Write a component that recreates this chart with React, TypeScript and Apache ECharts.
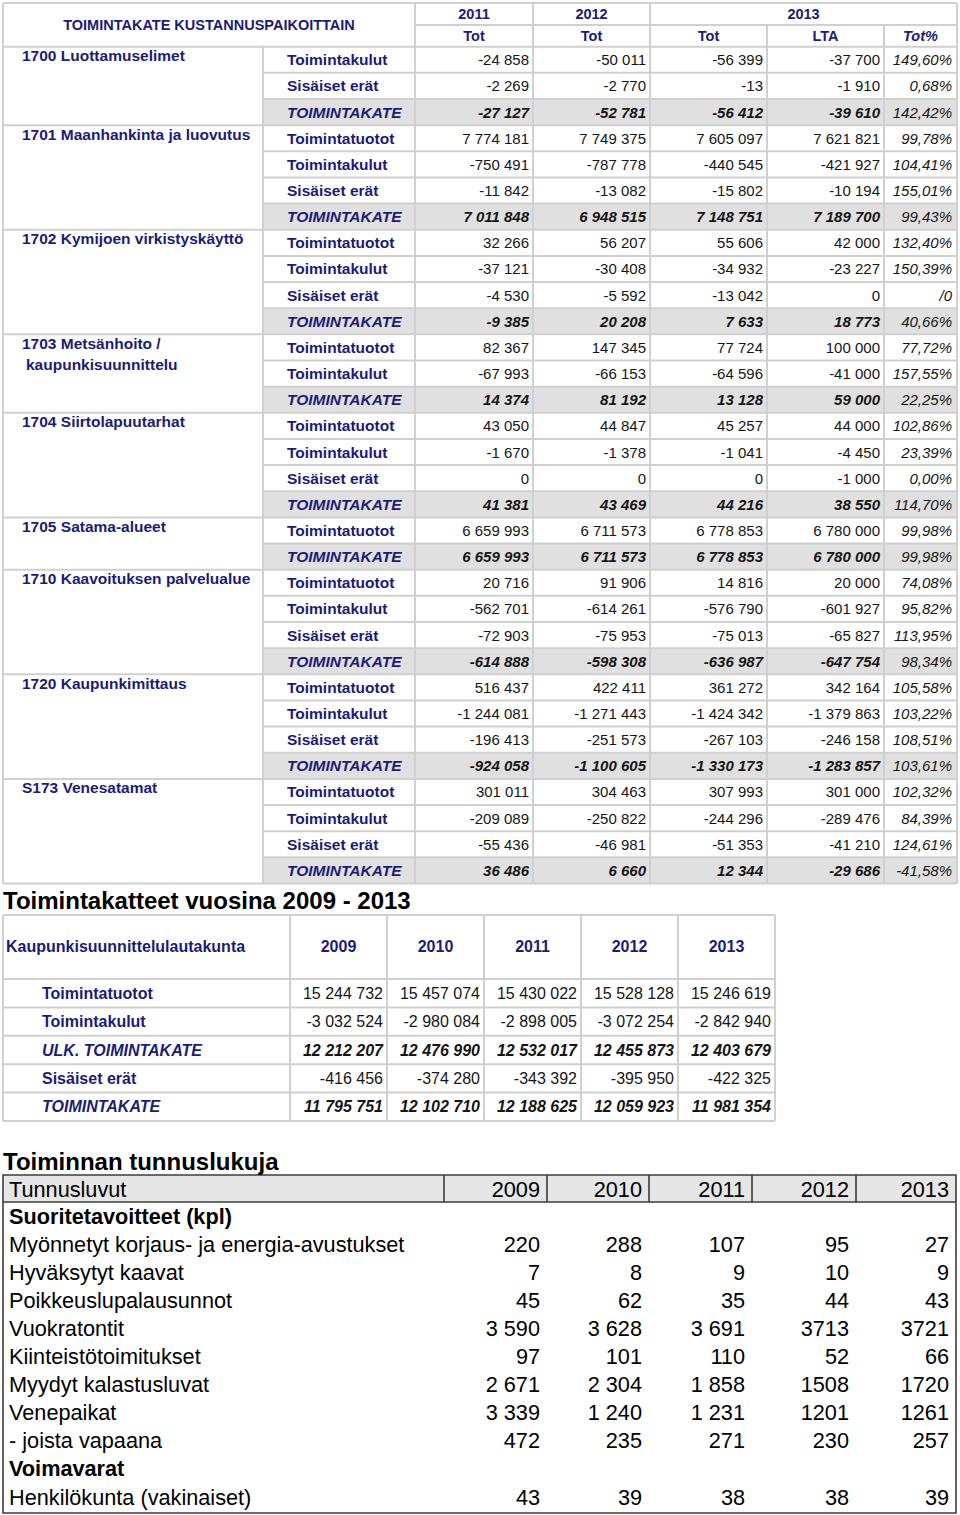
import React, { useEffect, useRef } from "react";
import * as echarts from "echarts";

const FONT = "'Liberation Sans', Arial, Helvetica, sans-serif";
const NAVY = "#1b1b78";
const INK = "#151515";
const GRID = "#d0d0d0";
const SHADE = "#e0e0e0";

// ---------- Table 1: Toimintakate kustannuspaikoittain ----------
const costCenters = [
  ["1700 Luottamuselimet"],
  ["1701 Maanhankinta ja luovutus"],
  ["1702 Kymijoen virkistyskäyttö"],
  ["1703 Metsänhoito /", "kaupunkisuunnittelu"],
  ["1704 Siirtolapuutarhat"],
  ["1705 Satama-alueet"],
  ["1710 Kaavoituksen palvelualue"],
  ["1720 Kaupunkimittaus"],
  ["S173 Venesatamat"],
];
const groupSizes = [3, 4, 4, 3, 4, 2, 4, 4, 4];
const rowLabels = [
  "Toimintakulut", "Sisäiset erät", "TOIMINTAKATE",
  "Toimintatuotot", "Toimintakulut", "Sisäiset erät", "TOIMINTAKATE",
  "Toimintatuotot", "Toimintakulut", "Sisäiset erät", "TOIMINTAKATE",
  "Toimintatuotot", "Toimintakulut", "TOIMINTAKATE",
  "Toimintatuotot", "Toimintakulut", "Sisäiset erät", "TOIMINTAKATE",
  "Toimintatuotot", "TOIMINTAKATE",
  "Toimintatuotot", "Toimintakulut", "Sisäiset erät", "TOIMINTAKATE",
  "Toimintatuotot", "Toimintakulut", "Sisäiset erät", "TOIMINTAKATE",
  "Toimintatuotot", "Toimintakulut", "Sisäiset erät", "TOIMINTAKATE",
];
const tot2011 = [-24858, -2269, -27127, 7774181, -750491, -11842, 7011848, 32266, -37121, -4530, -9385, 82367, -67993, 14374, 43050, -1670, 0, 41381, 6659993, 6659993, 20716, -562701, -72903, -614888, 516437, -1244081, -196413, -924058, 301011, -209089, -55436, 36486];
const tot2012 = [-50011, -2770, -52781, 7749375, -787778, -13082, 6948515, 56207, -30408, -5592, 20208, 147345, -66153, 81192, 44847, -1378, 0, 43469, 6711573, 6711573, 91906, -614261, -75953, -598308, 422411, -1271443, -251573, -1100605, 304463, -250822, -46981, 6660];
const tot2013 = [-56399, -13, -56412, 7605097, -440545, -15802, 7148751, 55606, -34932, -13042, 7633, 77724, -64596, 13128, 45257, -1041, 0, 44216, 6778853, 6778853, 14816, -576790, -75013, -636987, 361272, -1424342, -267103, -1330173, 307993, -244296, -51353, 12344];
const lta2013 = [-37700, -1910, -39610, 7621821, -421927, -10194, 7189700, 42000, -23227, 0, 18773, 100000, -41000, 59000, 44000, -4450, -1000, 38550, 6780000, 6780000, 20000, -601927, -65827, -647754, 342164, -1379863, -246158, -1283857, 301000, -289476, -41210, -29686];
const totPct2013: (number | null)[] = [149.6, 0.68, 142.42, 99.78, 104.41, 155.01, 99.43, 132.4, 150.39, null, 40.66, 77.72, 157.55, 22.25, 102.86, 23.39, 0.0, 114.7, 99.98, 99.98, 74.08, 95.82, 113.95, 98.34, 105.58, 103.22, 108.51, 103.61, 102.32, 84.39, 124.61, -41.58];
const t1Title = "TOIMINTAKATE KUSTANNUSPAIKOITTAIN";
const t1Years = ["2011", "2012", "2013"];
const t1SubHeads = ["Tot", "Tot", "Tot", "LTA", "Tot%"];

// ---------- Table 2: Toimintakatteet vuosina 2009 - 2013 ----------
const t2Heading = "Toimintakatteet vuosina 2009 - 2013";
const t2Corner = "Kaupunkisuunnittelulautakunta";
const t2Years = ["2009", "2010", "2011", "2012", "2013"];
const t2Labels = ["Toimintatuotot", "Toimintakulut", "ULK. TOIMINTAKATE", "Sisäiset erät", "TOIMINTAKATE"];
const t2Tuotot = [15244732, 15457074, 15430022, 15528128, 15246619];
const t2Kulut = [-3032524, -2980084, -2898005, -3072254, -2842940];
const t2UlkKate = [12212207, 12476990, 12532017, 12455873, 12403679];
const t2Sisaiset = [-416456, -374280, -343392, -395950, -422325];
const t2Kate = [11795751, 12102710, 12188625, 12059923, 11981354];

// ---------- Table 3: Toiminnan tunnuslukuja ----------
const t3Heading = "Toiminnan tunnuslukuja";
const t3Corner = "Tunnusluvut";
const t3Years = ["2009", "2010", "2011", "2012", "2013"];
const t3Grouped = [true, true, true, false, false];
const t3Labels = [
  "Suoritetavoitteet (kpl)",
  "Myönnetyt korjaus- ja energia-avustukset",
  "Hyväksytyt kaavat",
  "Poikkeuslupalausunnot",
  "Vuokratontit",
  "Kiinteistötoimitukset",
  "Myydyt kalastusluvat",
  "Venepaikat",
  "- joista vapaana",
  "Voimavarat",
  "Henkilökunta (vakinaiset)",
];
const avustukset = [220, 288, 107, 95, 27];
const kaavat = [7, 8, 9, 10, 9];
const lausunnot = [45, 62, 35, 44, 43];
const vuokratontit = [3590, 3628, 3691, 3713, 3721];
const toimitukset = [97, 101, 110, 52, 66];
const kalastusluvat = [2671, 2304, 1858, 1508, 1720];
const venepaikat = [3339, 1240, 1231, 1201, 1261];
const vapaana = [472, 235, 271, 230, 257];
const henkilokunta = [43, 39, 38, 38, 39];

function fmt(n: number, grouped = true): string {
  const s = Math.abs(n).toString();
  const g = grouped ? s.replace(/\B(?=(\d{3})+(?!\d))/g, " ") : s;
  return (n < 0 ? "-" : "") + g;
}
function fmtPct(p: number | null): string {
  if (p === null) return "/0";
  return p.toFixed(2).replace(".", ",") + "%";
}

function txt(
  x: number, y: number, text: string,
  opt: { size?: number; bold?: boolean; italic?: boolean; color?: string; align?: string } = {}
) {
  const align = opt.align || "left";
  return {
    type: "text",
    x, y, z: 10,
    silent: true,
    style: {
      text,
      x: 0, y: 0,
      fill: opt.color || INK,
      fontFamily: FONT,
      fontSize: opt.size || 15,
      fontWeight: opt.bold ? "bold" : "normal",
      fontStyle: opt.italic ? "italic" : "normal",
      align, textAlign: align,
      verticalAlign: "middle", textVerticalAlign: "middle",
    },
  };
}
function ln(x1: number, y1: number, x2: number, y2: number, stroke = GRID, w = 2) {
  return { type: "line", z: 5, silent: true, shape: { x1, y1, x2, y2 }, style: { stroke, lineWidth: w } };
}
function box(x: number, y: number, w: number, h: number, fill: string) {
  return { type: "rect", z: 1, silent: true, shape: { x, y, width: w, height: h }, style: { fill } };
}

function buildElements() {
  const els: any[] = [];

  // ===== Table 1 =====
  const X = [3, 263, 415, 533, 650, 767, 884, 957];
  const TOP = 3, MID = 25, HEAD = 46.7, RH = 26.15;
  const nRows = rowLabels.length;
  const bottom = HEAD + nRows * RH;
  const rowTop = (i: number) => HEAD + i * RH;
  const starts: number[] = [];
  let acc = 0;
  groupSizes.forEach((s) => { starts.push(acc); acc += s; });
  const boundaries = new Set([...starts, nRows]);

  rowLabels.forEach((lab, i) => {
    if (lab === "TOIMINTAKATE") els.push(box(X[1], rowTop(i), X[7] - X[1], RH, SHADE));
  });
  els.push(ln(X[0], TOP, X[7], TOP));
  els.push(ln(X[2], MID, X[7], MID));
  for (let i = 0; i <= nRows; i++) {
    els.push(ln(boundaries.has(i) ? X[0] : X[1], rowTop(i), X[7], rowTop(i)));
  }
  els.push(ln(X[0], TOP, X[0], bottom));
  els.push(ln(X[1], HEAD, X[1], bottom));
  [2, 3, 4, 7].forEach((k) => els.push(ln(X[k], TOP, X[k], bottom)));
  [5, 6].forEach((k) => els.push(ln(X[k], MID, X[k], bottom)));

  els.push(txt((X[0] + X[2]) / 2, (TOP + HEAD) / 2, t1Title, { bold: true, color: NAVY, align: "center", size: 14.5 }));
  els.push(txt((X[2] + X[3]) / 2, (TOP + MID) / 2 - 0.5, t1Years[0], { bold: true, color: NAVY, align: "center", size: 14.5 }));
  els.push(txt((X[3] + X[4]) / 2, (TOP + MID) / 2 - 0.5, t1Years[1], { bold: true, color: NAVY, align: "center", size: 14.5 }));
  els.push(txt((X[4] + X[7]) / 2, (TOP + MID) / 2 - 0.5, t1Years[2], { bold: true, color: NAVY, align: "center", size: 14.5 }));
  t1SubHeads.forEach((h, c) => {
    els.push(txt((X[c + 2] + X[c + 3]) / 2, (MID + HEAD) / 2, h, { bold: true, italic: h === "Tot%", color: NAVY, align: "center", size: 14.5 }));
  });

  costCenters.forEach((lines, g) => {
    const cy = rowTop(starts[g]) + RH / 2 - 4;
    lines.forEach((l, k) => {
      els.push(txt(k === 0 ? 22 : 26, cy + k * 21, l, { bold: true, color: NAVY, size: 15.5 }));
    });
  });

  const cols = [tot2011, tot2012, tot2013, lta2013];
  rowLabels.forEach((lab, i) => {
    const cy = rowTop(i) + RH / 2;
    const kate = lab === "TOIMINTAKATE";
    els.push(txt(287, cy, lab, { bold: true, italic: kate, color: NAVY, size: 15.5 }));
    cols.forEach((arr, c) => {
      els.push(txt(X[c + 3] - 4, cy, fmt(arr[i]), { bold: kate, italic: kate, align: "right", size: 15 }));
    });
    els.push(txt(X[7] - 5, cy, fmtPct(totPct2013[i]), { italic: true, align: "right", size: 15 }));
  });

  // ===== Table 2 =====
  els.push(txt(3, 900, t2Heading, { bold: true, color: "#000", size: 24 }));
  const X2 = [3, 290, 387, 484, 581, 678, 775];
  const T2TOP = 915, T2HEAD = 979, RH2 = 28.4;
  const t2Data = [t2Tuotot, t2Kulut, t2UlkKate, t2Sisaiset, t2Kate];
  const b2 = T2HEAD + t2Data.length * RH2;
  els.push(ln(X2[0], T2TOP, X2[6], T2TOP));
  for (let i = 0; i <= t2Data.length; i++) els.push(ln(X2[0], T2HEAD + i * RH2, X2[6], T2HEAD + i * RH2));
  X2.forEach((x) => els.push(ln(x, T2TOP, x, b2)));
  els.push(txt(6, 946, t2Corner, { bold: true, color: NAVY, size: 16 }));
  t2Years.forEach((y, c) => els.push(txt((X2[c + 1] + X2[c + 2]) / 2, 946, y, { bold: true, color: NAVY, align: "center", size: 16 })));
  t2Labels.forEach((lab, r) => {
    const cy = T2HEAD + r * RH2 + RH2 / 2;
    const kate = lab.indexOf("TOIMINTAKATE") >= 0;
    els.push(txt(42, cy, lab, { bold: true, italic: kate, color: NAVY, size: 16 }));
    t2Data[r].forEach((v, c) => {
      els.push(txt(X2[c + 2] - 4, cy, fmt(v), { bold: kate, italic: kate, align: "right", size: 16 }));
    });
  });

  // ===== Table 3 =====
  els.push(txt(3, 1161, t3Heading, { bold: true, color: "#000", size: 24 }));
  const X3 = [3, 444, 547, 649, 752, 856, 956];
  const T3TOP = 1175, T3HEAD = 1202, RH3 = 28.1, T3BOT = 1513;
  els.push(box(X3[0], T3TOP, X3[6] - X3[0], T3HEAD - T3TOP, "#e6e6e6"));
  els.push({ type: "rect", z: 6, silent: true, shape: { x: X3[0], y: T3TOP, width: X3[6] - X3[0], height: T3BOT - T3TOP }, style: { fill: "none", stroke: "#3c3c3c", lineWidth: 1.6 } });
  els.push(ln(X3[0], T3HEAD, X3[6], T3HEAD, "#3c3c3c", 1.6));
  for (let k = 1; k < 6; k++) els.push(ln(X3[k], T3TOP, X3[k], T3HEAD, "#3c3c3c", 1.6));
  els.push(txt(9, (T3TOP + T3HEAD) / 2 + 1, t3Corner, { size: 21.7, color: "#000" }));
  t3Years.forEach((y, c) => els.push(txt(X3[c + 2] - 7, (T3TOP + T3HEAD) / 2 + 1, y, { size: 21.7, color: "#000", align: "right" })));
  const t3Rows: (number[] | null)[] = [null, avustukset, kaavat, lausunnot, vuokratontit, toimitukset, kalastusluvat, venepaikat, vapaana, null, henkilokunta];
  t3Labels.forEach((lab, r) => {
    const cy = 1216 + r * RH3;
    const data = t3Rows[r];
    els.push(txt(9, cy, lab, { size: 21.7, color: "#000", bold: data === null }));
    if (data) {
      data.forEach((v, c) => els.push(txt(X3[c + 2] - 7, cy, fmt(v, t3Grouped[c]), { size: 21.7, color: "#000", align: "right" })));
    }
  });

  return els;
}

export default function App() {
  const ref = useRef<HTMLDivElement>(null);
  useEffect(() => {
    document.body.style.margin = "0";
    const chart = echarts.init(ref.current as HTMLDivElement, null, { renderer: "svg" });
    chart.setOption({
      animation: false,
      backgroundColor: "#ffffff",
      graphic: { elements: buildElements() },
    });
    return () => chart.dispose();
  }, []);
  return <div ref={ref} style={{ width: 960, height: 1515 }} />;
}
